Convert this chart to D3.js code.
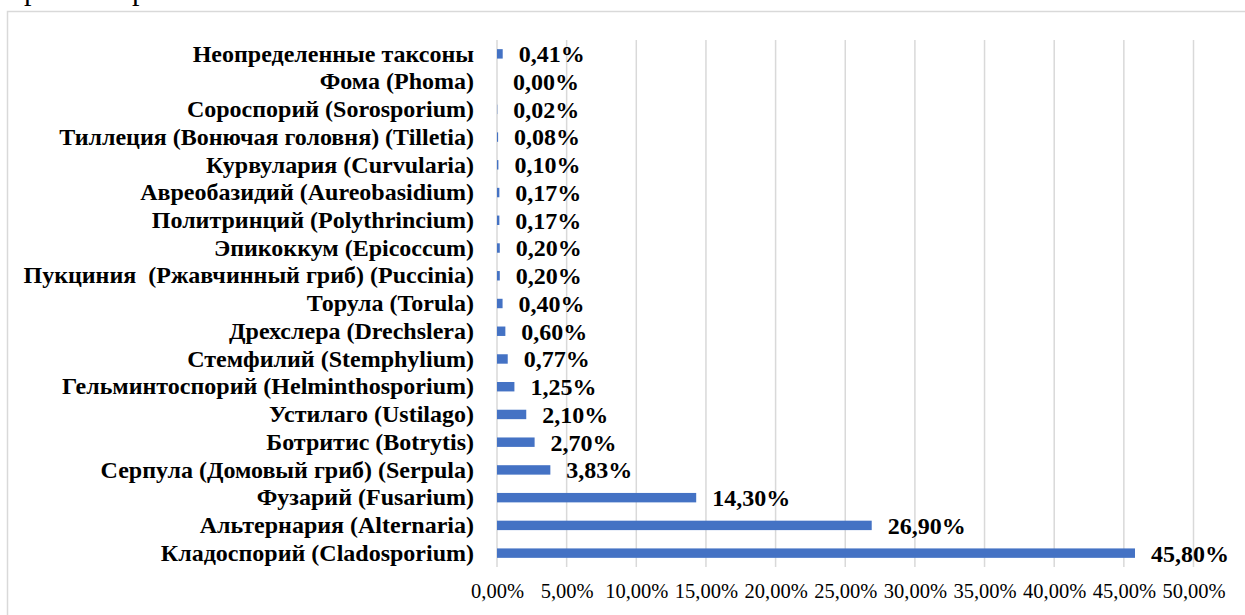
<!DOCTYPE html>
<html>
<head>
<meta charset="utf-8">
<script src="https://cdn.jsdelivr.net/npm/d3@7"></script>
<style>
  body { margin: 0; background: #fff; }
  svg { display: block; }
</style>
</head>
<body>
<script>
// categories, top to bottom as in the chart
const categories = [
  "Неопределенные таксоны",
  "Фома (Phoma)",
  "Сороспорий (Sorosporium)",
  "Тиллеция (Вонючая головня) (Tilletia)",
  "Курвулария (Curvularia)",
  "Авреобазидий (Aureobasidium)",
  "Политринций (Polythrincium)",
  "Эпикоккум (Epicoccum)",
  "Пукциния  (Ржавчинный гриб) (Puccinia)",
  "Торула (Torula)",
  "Дрехслера (Drechslera)",
  "Стемфилий (Stemphylium)",
  "Гельминтоспорий (Helminthosporium)",
  "Устилаго (Ustilago)",
  "Ботритис (Botrytis)",
  "Серпула (Домовый гриб) (Serpula)",
  "Фузарий (Fusarium)",
  "Альтернария (Alternaria)",
  "Кладоспорий (Cladosporium)"
];
const values = [0.41, 0.00, 0.02, 0.08, 0.10, 0.17, 0.17, 0.20, 0.20, 0.40,
                0.60, 0.77, 1.25, 2.10, 2.70, 3.83, 14.30, 26.90, 45.80];
const xTicks = [0, 5, 10, 15, 20, 25, 30, 35, 40, 45, 50];

const width = 1245, height = 615;
const margin = { top: 40, left: 497, right: 51.5, bottom: 48 };
const serif = "Liberation Serif, Tinos, serif";

const fmt = v => v.toFixed(2).replace(".", ",") + "%";

const svg = d3.select("body").append("svg")
    .attr("width", width)
    .attr("height", height)
    .attr("font-family", serif);

// cut-off text of the document above the chart
svg.append("g")
  .selectAll("text")
  .data([24, 132])
  .join("text")
    .attr("x", d => d)
    .attr("y", 0)
    .attr("font-size", 30)
    .text("р");

// chart frame
svg.append("rect")
    .attr("x", 7.5)
    .attr("y", 11.5)
    .attr("width", 1400)
    .attr("height", 800)
    .attr("fill", "none")
    .attr("stroke", "#d9d9d9")
    .attr("stroke-width", 1.5);

const x = d3.scaleLinear()
    .domain([0, 50])
    .range([margin.left, width - margin.right]);

const y = d3.scaleBand()
    .domain(categories)
    .range([margin.top, height - margin.bottom])
    .paddingInner(0.66)
    .paddingOuter(0.33);

// vertical gridlines
svg.append("g")
    .attr("stroke", "#d9d9d9")
    .attr("stroke-width", 1.5)
  .selectAll("line")
  .data(xTicks)
  .join("line")
    .attr("x1", d => x(d))
    .attr("x2", d => x(d))
    .attr("y1", margin.top)
    .attr("y2", height - margin.bottom);

// bottom axis labels
const xAxis = svg.append("g")
    .attr("transform", `translate(0,${height - margin.bottom + 13})`)
    .call(d3.axisBottom(x).tickValues(xTicks).tickSize(0)
      .tickFormat(d => d.toFixed(2).replace(".", ",") + "%"));
xAxis.attr("font-family", serif);
xAxis.select(".domain").remove();
xAxis.selectAll("text")
    .attr("font-size", 20.5)
    .attr("fill", "#000");

// bars
svg.append("g")
    .attr("fill", "#4472C4")
  .selectAll("rect")
  .data(values)
  .join("rect")
    .attr("x", x(0))
    .attr("y", (d, i) => y(categories[i]))
    .attr("width", d => x(d) - x(0))
    .attr("height", y.bandwidth());

// category labels
const yAxis = svg.append("g")
    .attr("transform", `translate(${x(0) - 23},0)`)
    .call(d3.axisLeft(y).tickSize(0).tickPadding(0));
yAxis.attr("font-family", serif);
yAxis.select(".domain").remove();
yAxis.selectAll("text")
    .attr("font-size", 24)
    .attr("font-weight", "bold")
    .attr("fill", "#000")
    .style("white-space", "pre");

// value labels
svg.append("g")
  .selectAll("text")
  .data(values)
  .join("text")
    .attr("font-size", 24)
    .attr("font-weight", "bold")
    .attr("x", d => x(d) + 16)
    .attr("y", (d, i) => y(categories[i]) + y.bandwidth() / 2)
    .attr("dy", "0.35em")
    .text(d => fmt(d));
</script>
</body>
</html>
